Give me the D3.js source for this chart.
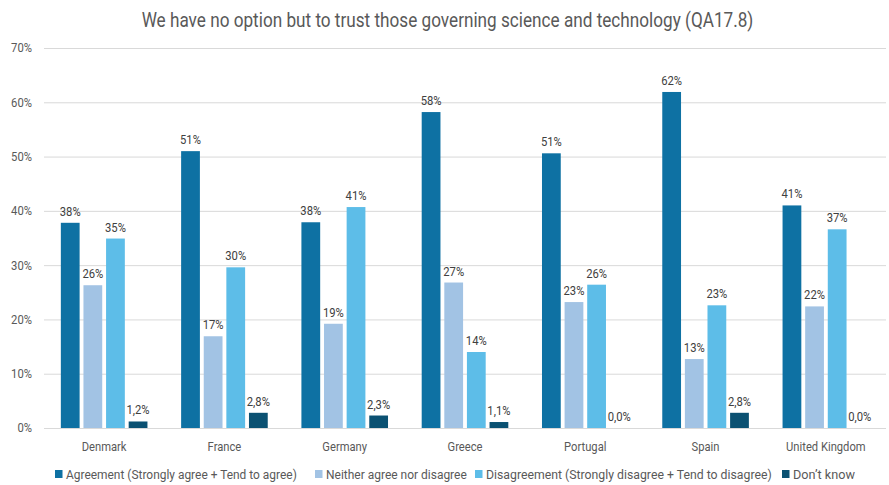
<!DOCTYPE html>
<html><head><meta charset="utf-8">
<script src="https://cdn.jsdelivr.net/npm/d3@7"></script>
<style>body{margin:0;background:#fff}svg{display:block}text{font-family:"Roboto","Liberation Sans",sans-serif}</style>
</head><body><svg id="c" width="889" height="485"></svg>
<script>
const categories = ["Denmark","France","Germany","Greece","Portugal","Spain","United Kingdom"];
const seriesNames = ["Agreement (Strongly agree + Tend to agree)","Neither agree nor disagree","Disagreement (Strongly disagree + Tend to disagree)","Don\u2019t know"];
const agreement = [37.8, 51.0, 37.9, 58.2, 50.6, 61.9, 41.0];
const neither = [26.3, 16.9, 19.2, 26.8, 23.2, 12.7, 22.4];
const disagreement = [34.9, 29.6, 40.7, 14.0, 26.4, 22.6, 36.6];
const dontKnow = [1.2, 2.8, 2.3, 1.1, 0.0, 2.8, 0.0];
const yTicks = [0,10,20,30,40,50,60,70];
const colors = ["#0e71a3","#a2c3e4","#5dbde8","#0b5172"];
const decimals = [0,0,0,1];
const title = "We have no option but to trust those governing science and technology (QA17.8)";

const series = [agreement, neither, disagreement, dontKnow];
const svg = d3.select("#c");
const m = {l:44, r:3, t:48, b:57};
const W = 889, H = 485;
const x0 = d3.scaleBand().domain(categories).range([m.l, W-m.r]).paddingInner(0.28).paddingOuter(0.14);
const x1 = d3.scaleBand().domain(d3.range(4)).range([0, x0.bandwidth()]).paddingInner(0.17);
const y = d3.scaleLinear().domain([0,70]).range([H-m.b, m.t]);

function condense(sel, f){
  sel.each(function(){
    const L = this.getComputedTextLength();
    d3.select(this).attr("textLength", L*f).attr("lengthAdjust","spacingAndGlyphs");
  });
}

condense(svg.append("text").attr("x", W/2+3).attr("y", 27).attr("text-anchor","middle")
  .attr("font-size", 19.5).attr("fill","#595959").text(title), 0.88);

const g = svg.append("g");
g.selectAll("line.grid").data(yTicks).join("line").attr("class","grid")
  .attr("x1", m.l).attr("x2", W-m.r).attr("y1", d=>y(d)+0.5).attr("y2", d=>y(d)+0.5)
  .attr("stroke","#d9d9d9").attr("stroke-width",1);
condense(g.selectAll("text.yt").data(yTicks).join("text").attr("class","yt")
  .attr("x", 32).attr("y", d=>y(d)).attr("dy","0.35em").attr("text-anchor","end")
  .attr("font-size", 12.5).attr("fill","#595959").text(d=>d+"%"), 0.9);

const fmtLabel = (v,i) => decimals[i] ? v.toFixed(decimals[i]).replace(".",",")+"%" : Math.round(v)+"%";

series.forEach((vals, si) => {
  const sg = svg.append("g");
  sg.selectAll("rect").data(categories).join("rect")
    .attr("x", c=>x0(c)+x1(si)).attr("width", x1.bandwidth())
    .attr("y", (c,i)=>y(vals[i])).attr("height", (c,i)=>y(0)-y(vals[i]))
    .attr("fill", colors[si]);
  condense(sg.selectAll("text").data(categories).join("text")
    .attr("x", c=>x0(c)+x1(si)+x1.bandwidth()/2)
    .attr("y", (c,i)=>y(vals[i])-7)
    .attr("text-anchor","middle").attr("font-size",12.5).attr("fill","#404040")
    .text((c,i)=>fmtLabel(vals[i], si)), 0.9);
});

svg.append("line").attr("x1", m.l).attr("x2", W-m.r).attr("y1", y(0)+0.5).attr("y2", y(0)+0.5)
  .attr("stroke","#d9d9d9");

condense(svg.selectAll("text.cat").data(categories).join("text").attr("class","cat")
  .attr("x", c=>x0(c)+x0.bandwidth()/2).attr("y", 451)
  .attr("text-anchor","middle").attr("font-size",13).attr("fill","#595959").text(c=>c), 0.86);

// legend (layout positions)
const legX = [55, 315, 475, 782];
const legW = [231, 141, 286, 62];
const items = svg.append("g").selectAll("g").data(seriesNames).join("g")
  .attr("transform",(d,i)=>`translate(${legX[i]},479)`);
items.append("rect").attr("x",0).attr("y",-9).attr("width",7.5).attr("height",8).attr("fill",(d,i)=>colors[i]);
items.append("text").attr("x",0).attr("y",0).attr("font-size",13.5).attr("fill","#595959").text(d=>d)
  .each(function(d,i){
    const L = this.getComputedTextLength();
    d3.select(this).attr("transform",`translate(11,0) scale(${legW[i]/L},1)`);
  });
</script></body></html>
